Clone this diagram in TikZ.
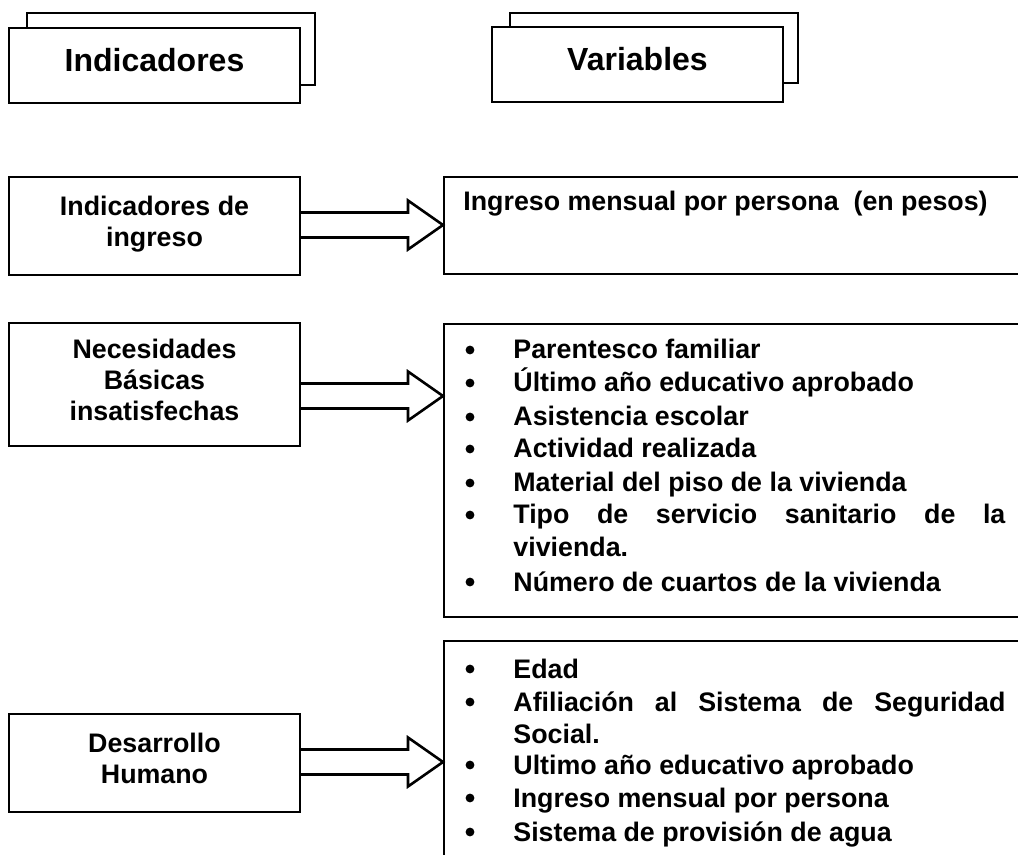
\documentclass[tikz,border=0pt]{standalone}
\usepackage{fontspec}
\setmainfont{Liberation Sans}
\usepackage{xcolor}
\colorlet{LINECOLOR}{black}
\colorlet{BOXCOLOR}{white}
\usepackage{tikz}
\usetikzlibrary{positioning,calc}
\tikzset{
  box-style/.style = {
    rectangle, draw=LINECOLOR, line width=1pt,
    fill=BOXCOLOR,
    inner sep=2pt
  },
  back-style/.style = {
    box-style,
    minimum width=144pt,
    minimum height=#1
  },
  head-style/.style = {
    box-style,
    minimum width=145.5pt,
    minimum height=37.5pt,
    text depth=5.5pt,
    font=\fontsize{16}{19}\selectfont\bfseries
  },
  ind-style/.style = {
    box-style,
    minimum width=145.5pt,
    minimum height=#1,
    text depth=5pt,
    align=center,
    font=\fontsize{13.4}{15.5}\selectfont\bfseries
  },
  var-style/.style = {
    box-style, anchor=north west,
    minimum width=300pt,
    minimum height=#1
  },
  bullet-style/.style = {
    circle, fill=LINECOLOR, inner sep=0pt, minimum size=4.4pt
  },
  line-style/.style = {
    anchor=base west, inner sep=0pt,
    font={\fontsize{13.4}{16.5}\selectfont\bfseries\hyphenpenalty10000\relax}
  },
  item-style/.style = {
    line-style,
    text width=246pt, align=justify
  },
  arrow-style/.style = {
    draw=LINECOLOR, line width=1.3pt, fill=BOXCOLOR, line join=miter
  }
}
\newcommand\addItem[3]{
  \node[bullet-style] (b#1) at (470,#2-9) {};
  \node[item-style] (t#1) at (513,#2) {#3};
}
\newcommand\blockArrow[3]{
  \coordinate (#1Tail) at (#1.east |- 0,#3);
  \coordinate (#2Tip) at (#2.west |- 0,#3);
  \draw[arrow-style] ($(#1Tail)+(0,-12.5)$) -- ($(#2Tip)+(-35,-12.5)$)
    -- ($(#2Tip)+(-35,-24.5)$) -- (#2Tip) -- ($(#2Tip)+(-35,24.5)$)
    -- ($(#2Tip)+(-35,12.5)$) -- ($(#1Tail)+(0,12.5)$);
}

\begin{document}
\begin{tikzpicture}[x=0.5pt,y=-0.5pt]
    \path[use as bounding box,clip] (0,0) rectangle (1018,855);

    %%% header boxes
    \node[back-style=36pt] (indHeadBack) at (171,49) {};
    \node[head-style] (indHead) at (154.5,65.5) {Indicadores};
    \node[back-style=35pt] (varHeadBack) at (654,48) {};
    \node[head-style] (varHead) at (637.5,64.5) {Variables};

    %%% indicators
    \node[ind-style=49pt] (indIngreso) at (154.5,226) {Indicadores de\\ingreso};
    \node[ind-style=61.5pt] (indNbi) at (154.5,384.5) {Necesidades\\Básicas\\insatisfechas};
    \node[ind-style=49pt] (indDh) at (154.5,763) {Desarrollo\\Humano};

    %%% variables
    \node[var-style=48.5pt] (varIngreso) at (443,176) {};
    \node[var-style=146.5pt] (varNbi) at (443,323) {};
    \node[var-style=120pt] (varDh) at (443,640) {};

    \node[line-style] (tIngreso) at (463,211) {Ingreso mensual por persona\ \ (en pesos)};

    \addItem{Nbi1}{359}{Parentesco familiar}
    \addItem{Nbi2}{392}{Último año educativo aprobado}
    \addItem{Nbi3}{426}{Asistencia escolar}
    \addItem{Nbi4}{458}{Actividad realizada}
    \addItem{Nbi5}{492}{Material del piso de la vivienda}
    \addItem{Nbi6}{524}{Tipo de servicio sanitario de la vivienda.}
    \addItem{Nbi7}{591}{Número de cuartos de la vivienda}

    \addItem{Dh1}{678}{Edad}
    \addItem{Dh2}{711}{Afiliación al Sistema de Seguridad Social.}
    \addItem{Dh3}{774}{Ultimo año educativo aprobado}
    \addItem{Dh4}{807}{Ingreso mensual por persona}
    \addItem{Dh5}{841}{Sistema de provisión de agua}

    %%% arrows
    \blockArrow{indIngreso}{varIngreso}{225}
    \blockArrow{indNbi}{varNbi}{396}
    \blockArrow{indDh}{varDh}{762}
\end{tikzpicture}
\end{document}
